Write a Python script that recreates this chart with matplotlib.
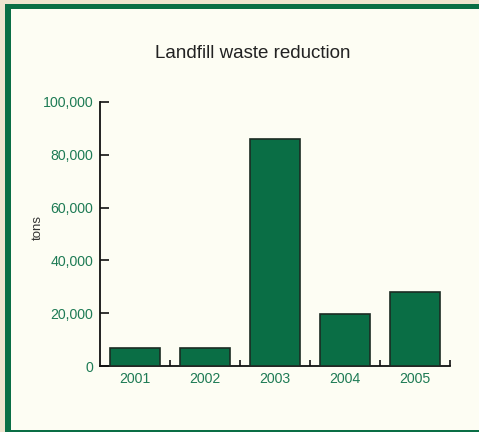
import matplotlib
matplotlib.use("Agg")
import matplotlib.pyplot as plt
from matplotlib.patches import Rectangle
from matplotlib.ticker import FuncFormatter

years = ["2001", "2002", "2003", "2004", "2005"]
tons = [7000, 6700, 86000, 19600, 28000]
yticks = [0, 20000, 40000, 60000, 80000, 100000]

GREEN = "#0A6E45"
LABEL_GREEN = "#1E7B55"
PANEL = "#FDFDF3"
OUTER = "#EFE4CF"
FONT = ["Liberation Sans", "DejaVu Sans"]

W, H = 479, 432
fig = plt.figure(figsize=(W / 100, H / 100), dpi=100, facecolor=OUTER)

# panel with green frame on left, top and bottom
fig.patches.append(Rectangle((4.5 / W, 0), 1, 1 - 4 / H, transform=fig.transFigure,
                             facecolor=GREEN, edgecolor="none", zorder=-2))
fig.patches.append(Rectangle((11 / W, 2 / H), 1, 1 - 11 / H, transform=fig.transFigure,
                             facecolor=PANEL, edgecolor="none", zorder=-1))

ax = fig.add_axes([100 / W, 1 - 366 / H, 350 / W, 264 / H])
ax.set_facecolor("none")
ax.set_zorder(2)

x = range(len(years))
ax.bar(x, tons, width=0.72, color=GREEN, edgecolor="#1c2b23", linewidth=1.2, zorder=3)

ax.set_xlim(-0.5, len(years) - 0.5)
ax.set_ylim(0, 100000)

for s in ("top", "right"):
    ax.spines[s].set_visible(False)
for s in ("left", "bottom"):
    ax.spines[s].set_linewidth(1.3)
    ax.spines[s].set_color("#111111")

ax.set_yticks(yticks)
ax.yaxis.set_major_formatter(FuncFormatter(lambda v, p: f"{int(v):,}"))
ax.tick_params(axis="y", direction="in", length=6.5, width=1.2, color="#111111",
               labelcolor=LABEL_GREEN, pad=5)

ax.set_xticks(list(x))
ax.set_xticklabels(years)
ax.set_xticks([i + 0.5 for i in x], minor=True)
ax.tick_params(axis="x", which="major", length=0, labelcolor=LABEL_GREEN, pad=4)
ax.tick_params(axis="x", which="minor", direction="in", length=4.5, width=1.2,
               color="#111111")

for lbl in ax.get_xticklabels() + ax.get_yticklabels():
    lbl.set_family(FONT)
    lbl.set_fontsize(10.2)

fig.text(38 / W, 1 - 228 / H, "tons", rotation=90, ha="center", va="center",
         fontsize=9.5, color="#333333", family=FONT)

fig.text(253 / W, 1 - 53 / H, "Landfill waste reduction", ha="center", va="center",
         fontsize=13.5, color="#222222", family=FONT)

fig.savefig("out.png", dpi=100, facecolor=OUTER)
